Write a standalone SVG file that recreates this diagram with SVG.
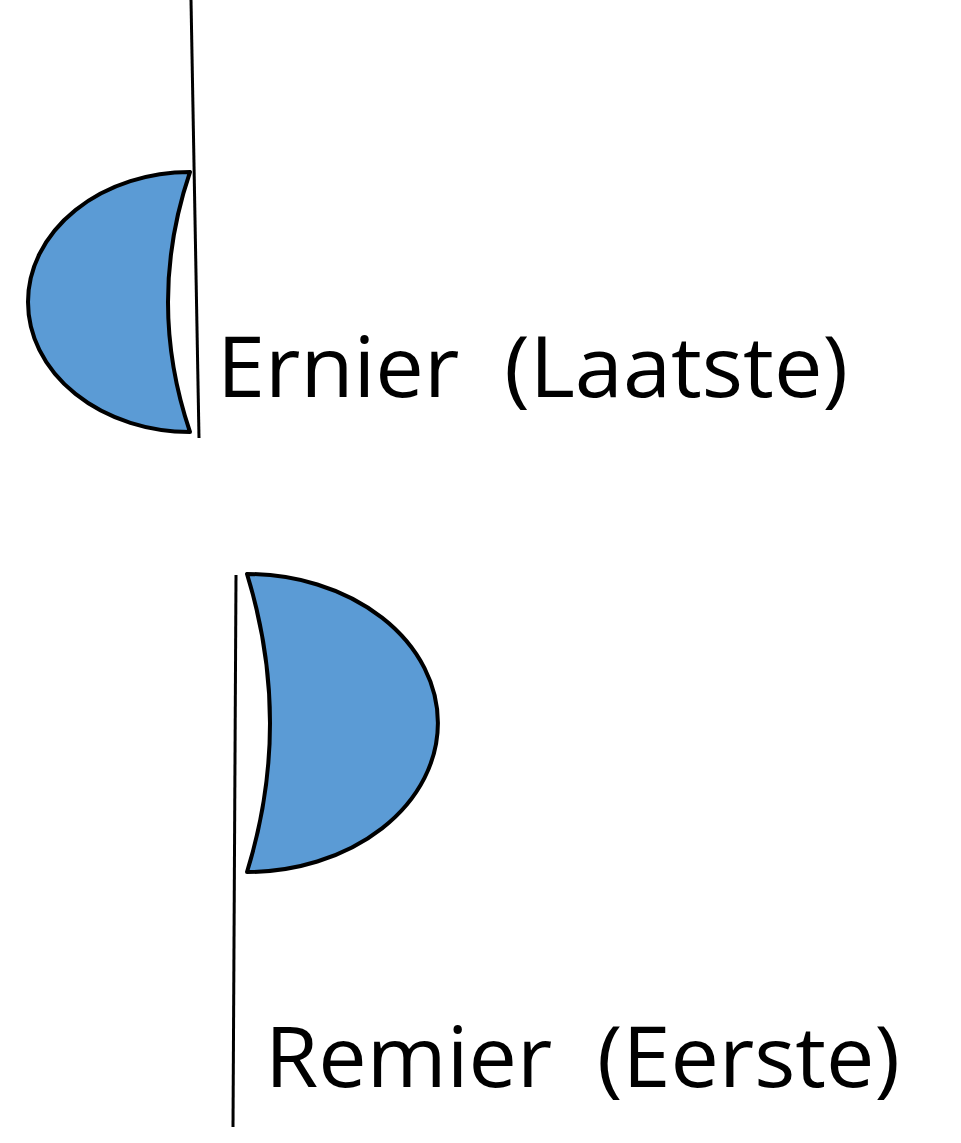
<svg xmlns="http://www.w3.org/2000/svg" width="961" height="1143" viewBox="0 0 961 1143">
<style>
.shape{fill:#5b9bd5;stroke:#000;stroke-width:4;stroke-linejoin:round}
.line{stroke:#000;stroke-width:3;fill:none}
.lbl{font-family:"Open Sans","Liberation Sans",sans-serif;font-size:84px;fill:#000;white-space:pre}
</style>
<rect width="961" height="1143" fill="#fff"/>
<g id="lines">
<line class="line" x1="191" y1="0" x2="199" y2="438"/>
<line class="line" x1="236" y1="575" x2="233" y2="1127"/>
</g>
<g id="ernier">
<path class="shape" d="M190,172 A162,130 0 0 0 190,432 Q146,302 190,172 Z"/>
<text class="lbl" x="217" y="397" textLength="631" lengthAdjust="spacingAndGlyphs" xml:space="preserve">Ernier  (Laatste)</text>
</g>
<g id="remier">
<path class="shape" d="M247,574 A191,149 0 0 1 247,872 Q293,723 247,574 Z"/>
<text class="lbl" x="265" y="1087" textLength="635" lengthAdjust="spacingAndGlyphs" xml:space="preserve">Remier  (Eerste)</text>
</g>
</svg>
